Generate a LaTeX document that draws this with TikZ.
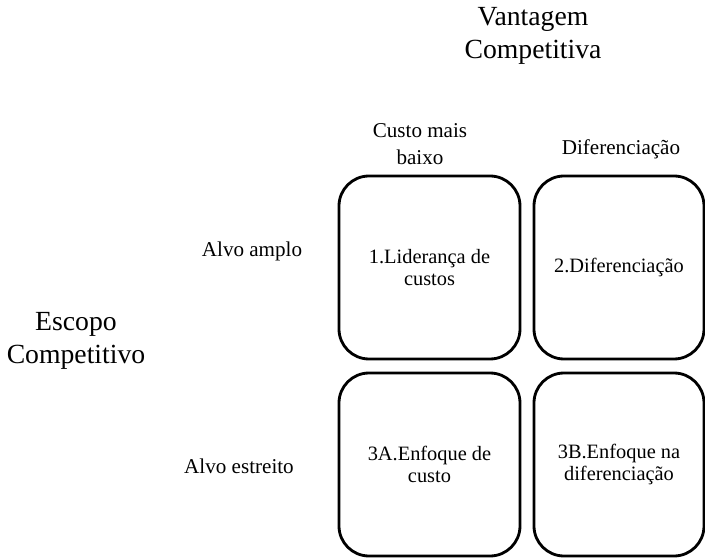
\documentclass[tikz,border=0pt]{standalone}
\usepackage{fontspec}
\setmainfont{Liberation Serif}
\usetikzlibrary{positioning}

\begin{document}
\begin{tikzpicture}[
    quadrant/.style={draw, line width=2pt, rounded corners=0.75cm,
        minimum height=4.575cm, align=center,
        font=\fontsize{14.5}{15.6}\selectfont},
    axistitle/.style={align=center, font=\fontsize{19.7}{23.5}\selectfont},
    header/.style={align=center, font=\fontsize{15}{19.2}\selectfont}]

        \useasboundingbox (0,0) rectangle (17.625,14);

        \node[axistitle] (vantagem) at(13.325,13.1) {Vantagem\\Competitiva};
        \node[axistitle] (escopo) at(1.9,5.475) {Escopo\\Competitivo};

        \node[header] (custo) at(10.5,10.39) {Custo mais\\baixo};
        \node[header, anchor=base] (difer) at(15.525,10.125) {Diferenciação};
        \node[header, anchor=base] (amplo) at(6.3,7.575) {Alvo amplo};
        \node[header, anchor=base] (estreito) at(5.975,2.15) {Alvo estreito};

        \node[quadrant, minimum width=4.525cm] (lideranca) at(10.7375,7.3125) {1.Liderança de\\custos};
        \node[quadrant, minimum width=4.25cm] (diferenciacao) at(15.475,7.3125) {2.Diferenciação};
        \node[quadrant, minimum width=4.525cm, below=0.28cm of lideranca] (enfcusto) {3A.Enfoque de\\custo};
        \node[quadrant, minimum width=4.25cm, below=0.28cm of diferenciacao] (enfdifer) {3B.Enfoque na\\diferenciação};

    \end{tikzpicture}
\end{document}
